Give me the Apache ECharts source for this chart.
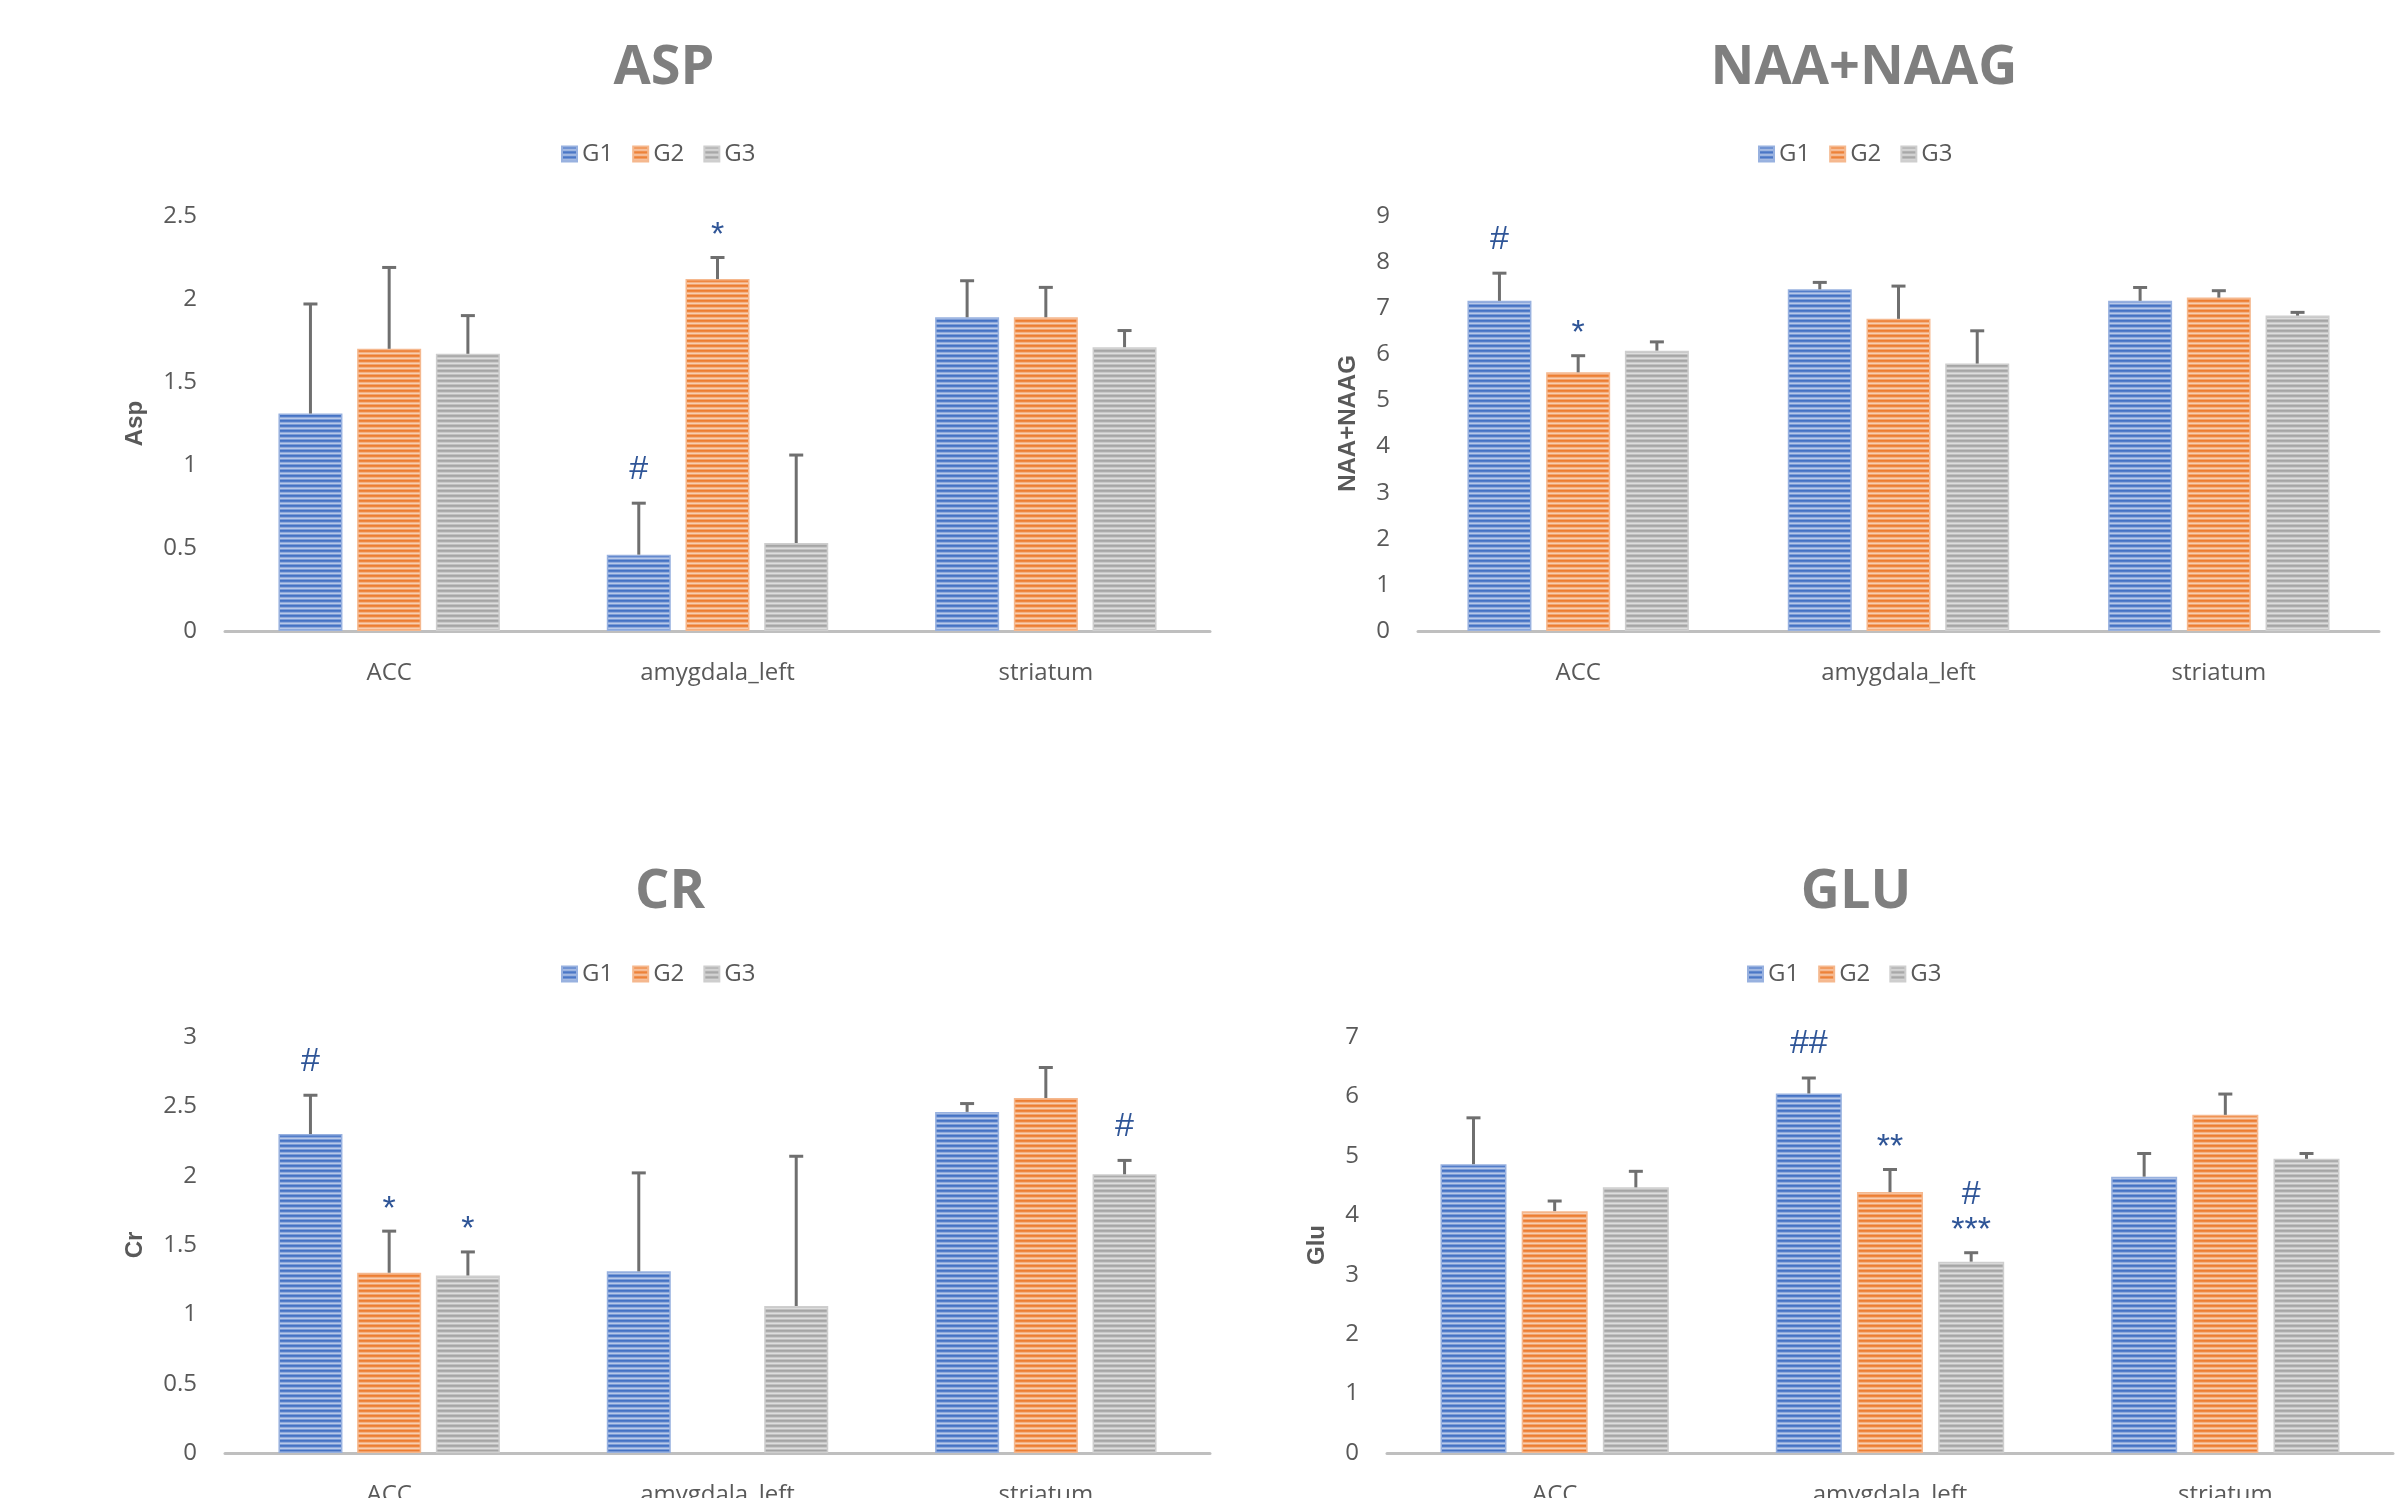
<!DOCTYPE html>
<html>
<head>
<meta charset="utf-8">
<script src="https://cdn.jsdelivr.net/npm/echarts@6/dist/echarts.min.js"></script>
<style>
  html, body { margin: 0; padding: 0; background: #fff; }
  #chart { width: 2403px; height: 1498px; }
</style>
</head>
<body>
<div id="chart"></div>
<script>
const regions = ["ACC", "amygdala_left", "striatum"];
const groups = ["G1", "G2", "G3"];

// ASP
const aspG1 = [1.31, 0.46, 1.89];
const aspG2 = [1.70, 2.12, 1.89];
const aspG3 = [1.67, 0.53, 1.71];
const aspSdG1 = [0.66, 0.31, 0.22];
const aspSdG2 = [0.49, 0.13, 0.18];
const aspSdG3 = [0.23, 0.53, 0.10];
const aspMarks = [["", "#", ""], ["", "*", ""], ["", "", ""]];

// NAA+NAAG
const naaG1 = [7.16, 7.41, 7.16];
const naaG2 = [5.61, 6.77, 7.23];
const naaG3 = [6.08, 5.80, 6.84];
const naaSdG1 = [0.60, 0.15, 0.29];
const naaSdG2 = [0.36, 0.71, 0.15];
const naaSdG3 = [0.19, 0.71, 0.07];
const naaMarks = [["#", "", ""], ["*", "", ""], ["", "", ""]];

// CR (no G2 value for amygdala_left)
const crG1 = [2.30, 1.31, 2.46];
const crG2 = [1.30, null, 2.56];
const crG3 = [1.28, 1.06, 2.01];
const crSdG1 = [0.28, 0.71, 0.06];
const crSdG2 = [0.30, null, 0.22];
const crSdG3 = [0.17, 1.08, 0.10];
const crMarks = [["#", "", ""], ["*", "", ""], ["*", "", "#"]];

// GLU
const gluG1 = [4.86, 6.05, 4.65];
const gluG2 = [4.07, 4.39, 5.69];
const gluG3 = [4.47, 3.22, 4.95];
const gluSdG1 = [0.78, 0.26, 0.39];
const gluSdG2 = [0.17, 0.38, 0.35];
const gluSdG3 = [0.27, 0.15, 0.09];
const gluMarks = [["", "##", ""], ["", "**", ""], ["", "#\n***", ""]];

const panels = [
  { title: "ASP", yName: "Asp", max: 2.5, interval: 0.5, means: [aspG1, aspG2, aspG3], sds: [aspSdG1, aspSdG2, aspSdG3], marks: aspMarks },
  { title: "NAA+NAAG", yName: "NAA+NAAG", max: 9, interval: 1, means: [naaG1, naaG2, naaG3], sds: [naaSdG1, naaSdG2, naaSdG3], marks: naaMarks },
  { title: "CR", yName: "Cr", max: 3, interval: 0.5, means: [crG1, crG2, crG3], sds: [crSdG1, crSdG2, crSdG3], marks: crMarks },
  { title: "GLU", yName: "Glu", max: 7, interval: 1, means: [gluG1, gluG2, gluG3], sds: [gluSdG1, gluSdG2, gluSdG3], marks: gluMarks },
];

// layout of the four panels (pixels)
const layout = [
  { left: 225, top: 216, width: 985, height: 415, titleX: 659, titleY: 37, legendX: 561, legendY: 142, nameGap: 78, barW: 64 },
  { left: 1418, top: 216, width: 961, height: 415, titleX: 1859, titleY: 37, legendX: 1758, legendY: 142, nameGap: 58, barW: 64 },
  { left: 225, top: 1037, width: 985, height: 416, titleX: 665, titleY: 861, legendX: 561, legendY: 962, nameGap: 78, barW: 64 },
  { left: 1387, top: 1037, width: 1006, height: 416, titleX: 1851, titleY: 861, legendX: 1747, legendY: 962, nameGap: 58, barW: 66 },
];

const colors = ["#4472c4", "#ed7d31", "#a5a5a5"];
const barGap = 0.23;

function mix(hex, t) {
  const n = parseInt(hex.slice(1), 16);
  const r = n >> 16, g = (n >> 8) & 255, b = n & 255;
  const f = (v) => Math.round(v + (255 - v) * t);
  return "rgb(" + f(r) + "," + f(g) + "," + f(b) + ")";
}

// horizontal stripes like the excel picture fill
function stripes(hex) {
  const c = document.createElement("canvas");
  c.width = 8;
  c.height = 5;
  const ctx = c.getContext("2d");
  const rows = [0, 0.08, 0.4, 0.62, 0.3];
  rows.forEach((t, i) => {
    ctx.fillStyle = mix(hex, t);
    ctx.fillRect(0, i, 8, 1);
  });
  return c;
}
const fills = colors.map((c) => ({ image: stripes(c), repeat: "repeat" }));

const mychart = echarts.init(document.getElementById("chart"));

const titles = [], legends = [], grids = [], xAxes = [], yAxes = [], series = [];

panels.forEach((p, k) => {
  const L = layout[k];
  titles.push({
    text: p.title,
    left: L.titleX,
    top: L.titleY,
    textAlign: "center",
    textStyle: { fontFamily: "Open Sans", fontWeight: "bold", fontSize: 54, color: "#7f7f7f" },
  });
  legends.push({
    data: groups,
    left: L.legendX,
    top: L.legendY,
    padding: 0,
    icon: "rect",
    itemWidth: 15,
    itemHeight: 15,
    itemGap: 19,
    textStyle: { fontFamily: "Open Sans", fontSize: 24, color: "#595959" },
  });
  grids.push({
    left: L.left,
    top: L.top,
    width: L.width,
    height: L.height,
    containLabel: false,
    outerBoundsMode: "none",
  });
  xAxes.push({
    type: "category",
    gridIndex: k,
    data: regions,
    axisLine: { lineStyle: { color: "#bfbfbf", width: 3 } },
    axisTick: { show: false },
    axisLabel: { margin: 30, fontFamily: "Open Sans", fontSize: 24, color: "#595959" },
  });
  yAxes.push({
    type: "value",
    gridIndex: k,
    min: 0,
    max: p.max,
    interval: p.interval,
    name: p.yName,
    nameLocation: "middle",
    nameGap: L.nameGap,
    nameTextStyle: { fontFamily: "Liberation Sans", fontWeight: "bold", fontSize: 24, color: "#595959" },
    axisLine: { show: false },
    axisTick: { show: false },
    splitLine: { show: false },
    axisLabel: { margin: 28, fontFamily: "Open Sans", fontSize: 24, color: "#595959" },
  });

  groups.forEach((g, i) => {
    series.push({
      name: g,
      type: "bar",
      xAxisIndex: k,
      yAxisIndex: k,
      barWidth: L.barW,
      barGap: barGap * 100 + "%",
      data: p.means[i],
      itemStyle: { color: fills[i], borderColor: mix(colors[i], 0.45), borderWidth: 1.5 },
      emphasis: { disabled: true },
    });
  });

  // error bars (upper only) + significance marks
  const items = [];
  groups.forEach((g, i) => {
    regions.forEach((r, j) => {
      const m = p.means[i][j];
      const s = p.sds[i][j];
      if (m == null) return;
      items.push({ value: [j, m, m + s], grp: i, mark: p.marks[i][j] });
    });
  });
  const spacing = L.barW * (1 + barGap);
  series.push({
    name: "err" + k,
    type: "custom",
    xAxisIndex: k,
    yAxisIndex: k,
    z: 5,
    data: items.map((d) => d.value),
    renderItem: function (params, api) {
      const item = items[params.dataIndex];
      const base = api.coord([api.value(0), api.value(1)]);
      const top = api.coord([api.value(0), api.value(2)]);
      const x = base[0] + (item.grp - 1) * spacing;
      const st = { stroke: "#6f6f6f", lineWidth: 3 };
      const children = [
        { type: "line", shape: { x1: x, y1: base[1], x2: x, y2: top[1] }, style: st },
        { type: "line", shape: { x1: x - 7, y1: top[1], x2: x + 7, y2: top[1] }, style: st },
      ];
      if (item.mark) {
        const last = item.mark.slice(-1);
        children.push({
          type: "text",
          style: {
            text: item.mark,
            x: x,
            y: top[1] - (last === "#" ? 16 : 4),
            align: "center",
            verticalAlign: "bottom",
            lineHeight: 36,
            font: "34px 'Liberation Sans'",
            fill: "#2f5597",
          },
        });
      }
      return { type: "group", children: children };
    },
  });
});

mychart.setOption({
  animation: false,
  title: titles,
  legend: legends,
  grid: grids,
  xAxis: xAxes,
  yAxis: yAxes,
  series: series,
});

window.addEventListener("resize", function () {
  mychart.resize();
});
</script>
</body>
</html>
